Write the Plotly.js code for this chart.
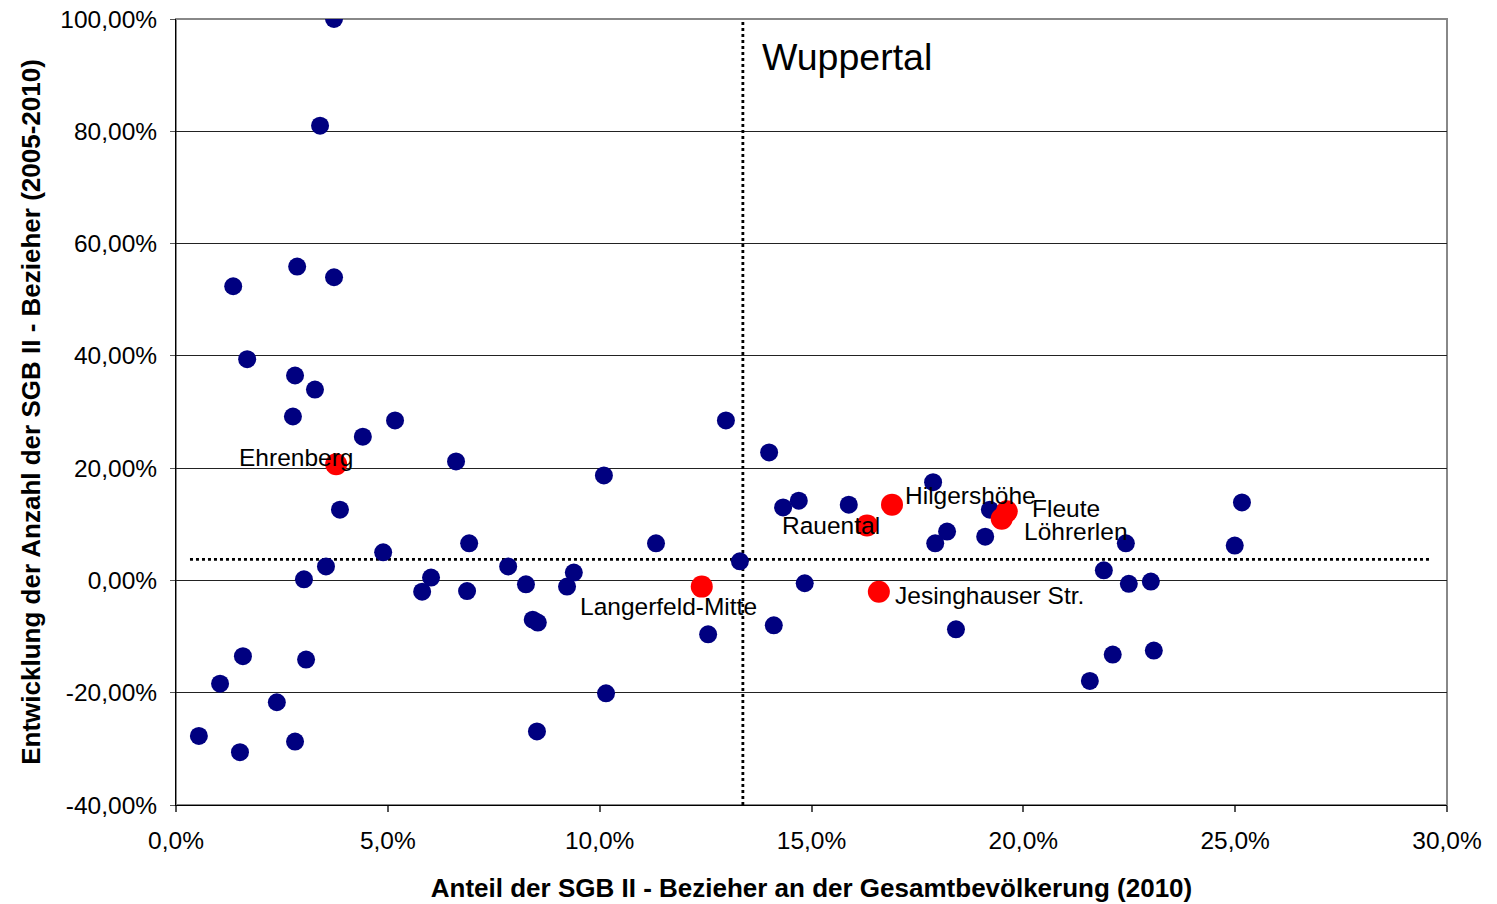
<!DOCTYPE html>
<html>
<head>
<meta charset="utf-8">
<script src="https://cdn.plot.ly/plotly-3.0.1.min.js"></script>
<style>
  html, body { margin: 0; padding: 0; background: #fff; }
  #chart { width: 1497px; height: 904px; }
</style>
</head>
<body>
<div id="chart"></div>
<script>
// ---- Data (x: Anteil SGB II-Bezieher 2010 in %, y: Entwicklung 2005-2010 in %) ----
const districtX = [3.73, 3.40, 1.35, 2.86, 3.73, 1.68, 2.81, 3.28, 2.76, 4.41, 5.17, 6.61, 3.87, 4.89, 3.54, 3.02, 6.02, 5.81, 6.92, 6.87,
  7.84, 8.26, 8.42, 8.54, 8.52, 9.23, 9.39, 10.10, 10.15, 11.33, 12.56, 12.98, 13.31, 14.00, 14.33, 14.70, 14.11, 14.84, 15.88, 17.87,
  17.92, 18.20, 18.41, 19.21, 19.10, 22.42, 21.90, 22.49, 23.01, 22.11, 23.08, 21.57, 25.16, 24.99, 0.54, 1.04, 1.58, 1.51, 2.38, 2.81, 3.07];
const districtY = [100.0, 81.0, 52.4, 55.9, 54.0, 39.4, 36.5, 34.0, 29.2, 25.6, 28.5, 21.2, 12.6, 5.0, 2.5, 0.2, 0.5, -2.0, 6.6, -1.9,
  2.5, -0.7, -7.0, -7.5, -26.9, -1.1, 1.4, 18.7, -20.1, 6.6, -9.6, 28.5, 3.4, 22.8, 13.0, 14.2, -8.0, -0.5, 13.5, 17.5,
  6.6, 8.7, -8.7, 12.6, 7.8, 6.6, 1.8, -0.6, -0.2, -13.2, -12.5, -17.9, 13.9, 6.2, -27.7, -18.4, -13.5, -30.6, -21.7, -28.7, -14.1];

const highlightNames = ["Ehrenberg", "Langerfeld-Mitte", "Rauental", "Hilgershöhe", "Jesinghauser Str.", "Fleute", "Löhrerlen"];
const highlightX = [3.78, 12.41, 16.31, 16.90, 16.59, 19.61, 19.49];
const highlightY = [20.7, -1.1, 9.8, 13.5, -2.0, 12.3, 11.0];

// Wuppertal average (reference lines)
const wuppertalName = "Wuppertal";
const wuppertalX = 13.38;
const wuppertalY = 3.74;
const avgLineXExtent = [0.33, 29.6];

// Axis ticks
const xTickVals = [0, 5, 10, 15, 20, 25, 30];
const xTickText = ["0,0%", "5,0%", "10,0%", "15,0%", "20,0%", "25,0%", "30,0%"];
const yTickVals = [-40, -20, 0, 20, 40, 60, 80, 100];
const yTickText = ["-40,00%", "-20,00%", "0,00%", "20,00%", "40,00%", "60,00%", "80,00%", "100,00%"];

const xTitle = "Anteil der SGB II - Bezieher an der Gesamtbevölkerung (2010)";
const yTitle = "Entwicklung der Anzahl der SGB II - Bezieher (2005-2010)";

// ---- Styles ----
const FONT = "Liberation Sans, Arial, sans-serif";
const LABEL_SIZE = 24.5;
const labelStyle = {
  "Ehrenberg":         {xanchor: "right", xshift: 19,  yshift: 7},
  "Langerfeld-Mitte":  {xanchor: "right", xshift: 57,  yshift: -20},
  "Rauental":          {xanchor: "right", xshift: 15,  yshift: 0},
  "Hilgershöhe":       {xanchor: "left",  xshift: 11,  yshift: 9},
  "Jesinghauser Str.": {xanchor: "left",  xshift: 14,  yshift: -4},
  "Fleute":            {xanchor: "left",  xshift: 23,  yshift: 3},
  "Löhrerlen":         {xanchor: "left",  xshift: 20,  yshift: -13}
};

const traces = [
  {
    x: [wuppertalX, wuppertalX], y: [yTickVals[0], yTickVals[yTickVals.length - 1]],
    type: "scatter", mode: "lines", hoverinfo: "skip",
    line: {color: "#000", width: 2.8, dash: "3px,3px"}
  },
  {
    x: avgLineXExtent, y: [wuppertalY, wuppertalY],
    type: "scatter", mode: "lines", hoverinfo: "skip",
    line: {color: "#000", width: 2.8, dash: "3px,3px"}
  },
  {
    x: districtX, y: districtY, type: "scatter", mode: "markers",
    marker: {color: "#000080", size: 18, line: {width: 0}}
  },
  {
    x: highlightX, y: highlightY, type: "scatter", mode: "markers",
    text: highlightNames,
    marker: {color: "#FF0000", size: 22, line: {width: 0}}
  }
];

const annotations = highlightNames.map((name, i) => ({
  x: highlightX[i], y: highlightY[i], xref: "x", yref: "y",
  text: name, showarrow: false,
  xanchor: labelStyle[name].xanchor, yanchor: "middle",
  xshift: labelStyle[name].xshift, yshift: labelStyle[name].yshift,
  font: {family: FONT, size: LABEL_SIZE, color: "#000"}
}));
annotations.push({
  x: wuppertalX, y: 93.3, xref: "x", yref: "y",
  text: wuppertalName, showarrow: false, xanchor: "left", yanchor: "middle",
  xshift: 17, font: {family: FONT, size: 37.5, color: "#000"}
});

const layout = {
  width: 1497, height: 904,
  margin: {l: 176, r: 50, t: 19, b: 99, pad: 0},
  paper_bgcolor: "#fff", plot_bgcolor: "#fff",
  showlegend: false,
  font: {family: FONT, size: 24.5, color: "#000"},
  xaxis: {
    range: [0, 30], tickvals: xTickVals, ticktext: xTickText,
    showgrid: false, zeroline: false,
    showline: true, linecolor: "#000", linewidth: 1,
    ticks: "outside", ticklen: 6, tickcolor: "#555", tickwidth: 2,
    ticklabelstandoff: 8,
    tickfont: {family: FONT, size: 24.5, color: "#000"},
    title: {text: "<b>" + xTitle + "</b>", font: {family: FONT, size: 26, color: "#000"}, standoff: 25}
  },
  yaxis: {
    range: [-40, 100], tickvals: yTickVals, ticktext: yTickText,
    showgrid: true, gridcolor: "#222", gridwidth: 1, zeroline: false,
    showline: true, linecolor: "#000", linewidth: 1,
    ticks: "outside", ticklen: 5, tickcolor: "#555", tickwidth: 1,
    ticklabelstandoff: 8,
    tickfont: {family: FONT, size: 24.5, color: "#000"},
    title: {text: "<b>" + yTitle + "</b>", font: {family: FONT, size: 26, color: "#000"}, standoff: 12}
  },
  shapes: [{
    type: "rect", xref: "paper", yref: "paper", x0: 0, x1: 1, y0: 0, y1: 1,
    line: {color: "#888", width: 2}, layer: "below"
  }],
  annotations: annotations
};

Plotly.newPlot("chart", traces, layout, {displayModeBar: false, staticPlot: true});
</script>
</body>
</html>
